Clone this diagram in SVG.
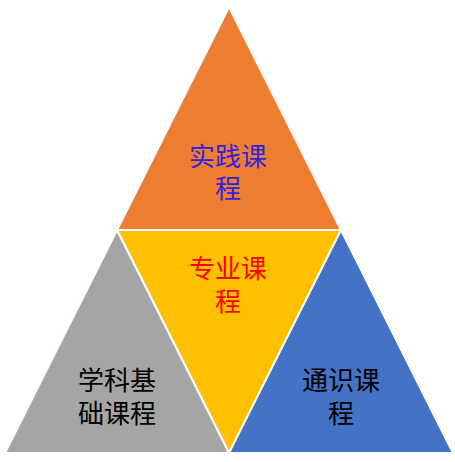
<svg xmlns="http://www.w3.org/2000/svg" width="455" height="462" viewBox="0 0 455 462">
<style>
.tri{stroke:#FFFFFF;stroke-width:2;stroke-linejoin:miter}
.t{font-family:"Microsoft YaHei","Noto Sans CJK SC",sans-serif;font-size:26px;text-anchor:middle}
</style>
<rect width="455" height="462" fill="#FFFFFF"/>
<g id="practice">
<polygon class="tri" points="229,7 117,230 341,230" fill="#ED7D31"/>
<text class="t" x="228" y="166" fill="#3322DD">实践课</text>
<text class="t" x="228" y="198" fill="#3322DD">程</text>
</g>
<g id="major">
<polygon class="tri" points="117,230 341,230 229,453" fill="#FFC000"/>
<text class="t" x="228" y="278" fill="#FF0000">专业课</text>
<text class="t" x="228" y="311" fill="#FF0000">程</text>
</g>
<g id="basic">
<polygon class="tri" points="117,230 229,453 5,453" fill="#A5A5A5"/>
<text class="t" x="117" y="390" fill="#000000">学科基</text>
<text class="t" x="117" y="423" fill="#000000">础课程</text>
</g>
<g id="general">
<polygon class="tri" points="341,230 453,453 229,453" fill="#4472C4"/>
<text class="t" x="341" y="390" fill="#000000">通识课</text>
<text class="t" x="341" y="423" fill="#000000">程</text>
</g>
<g id="connectors"></g>
</svg>
